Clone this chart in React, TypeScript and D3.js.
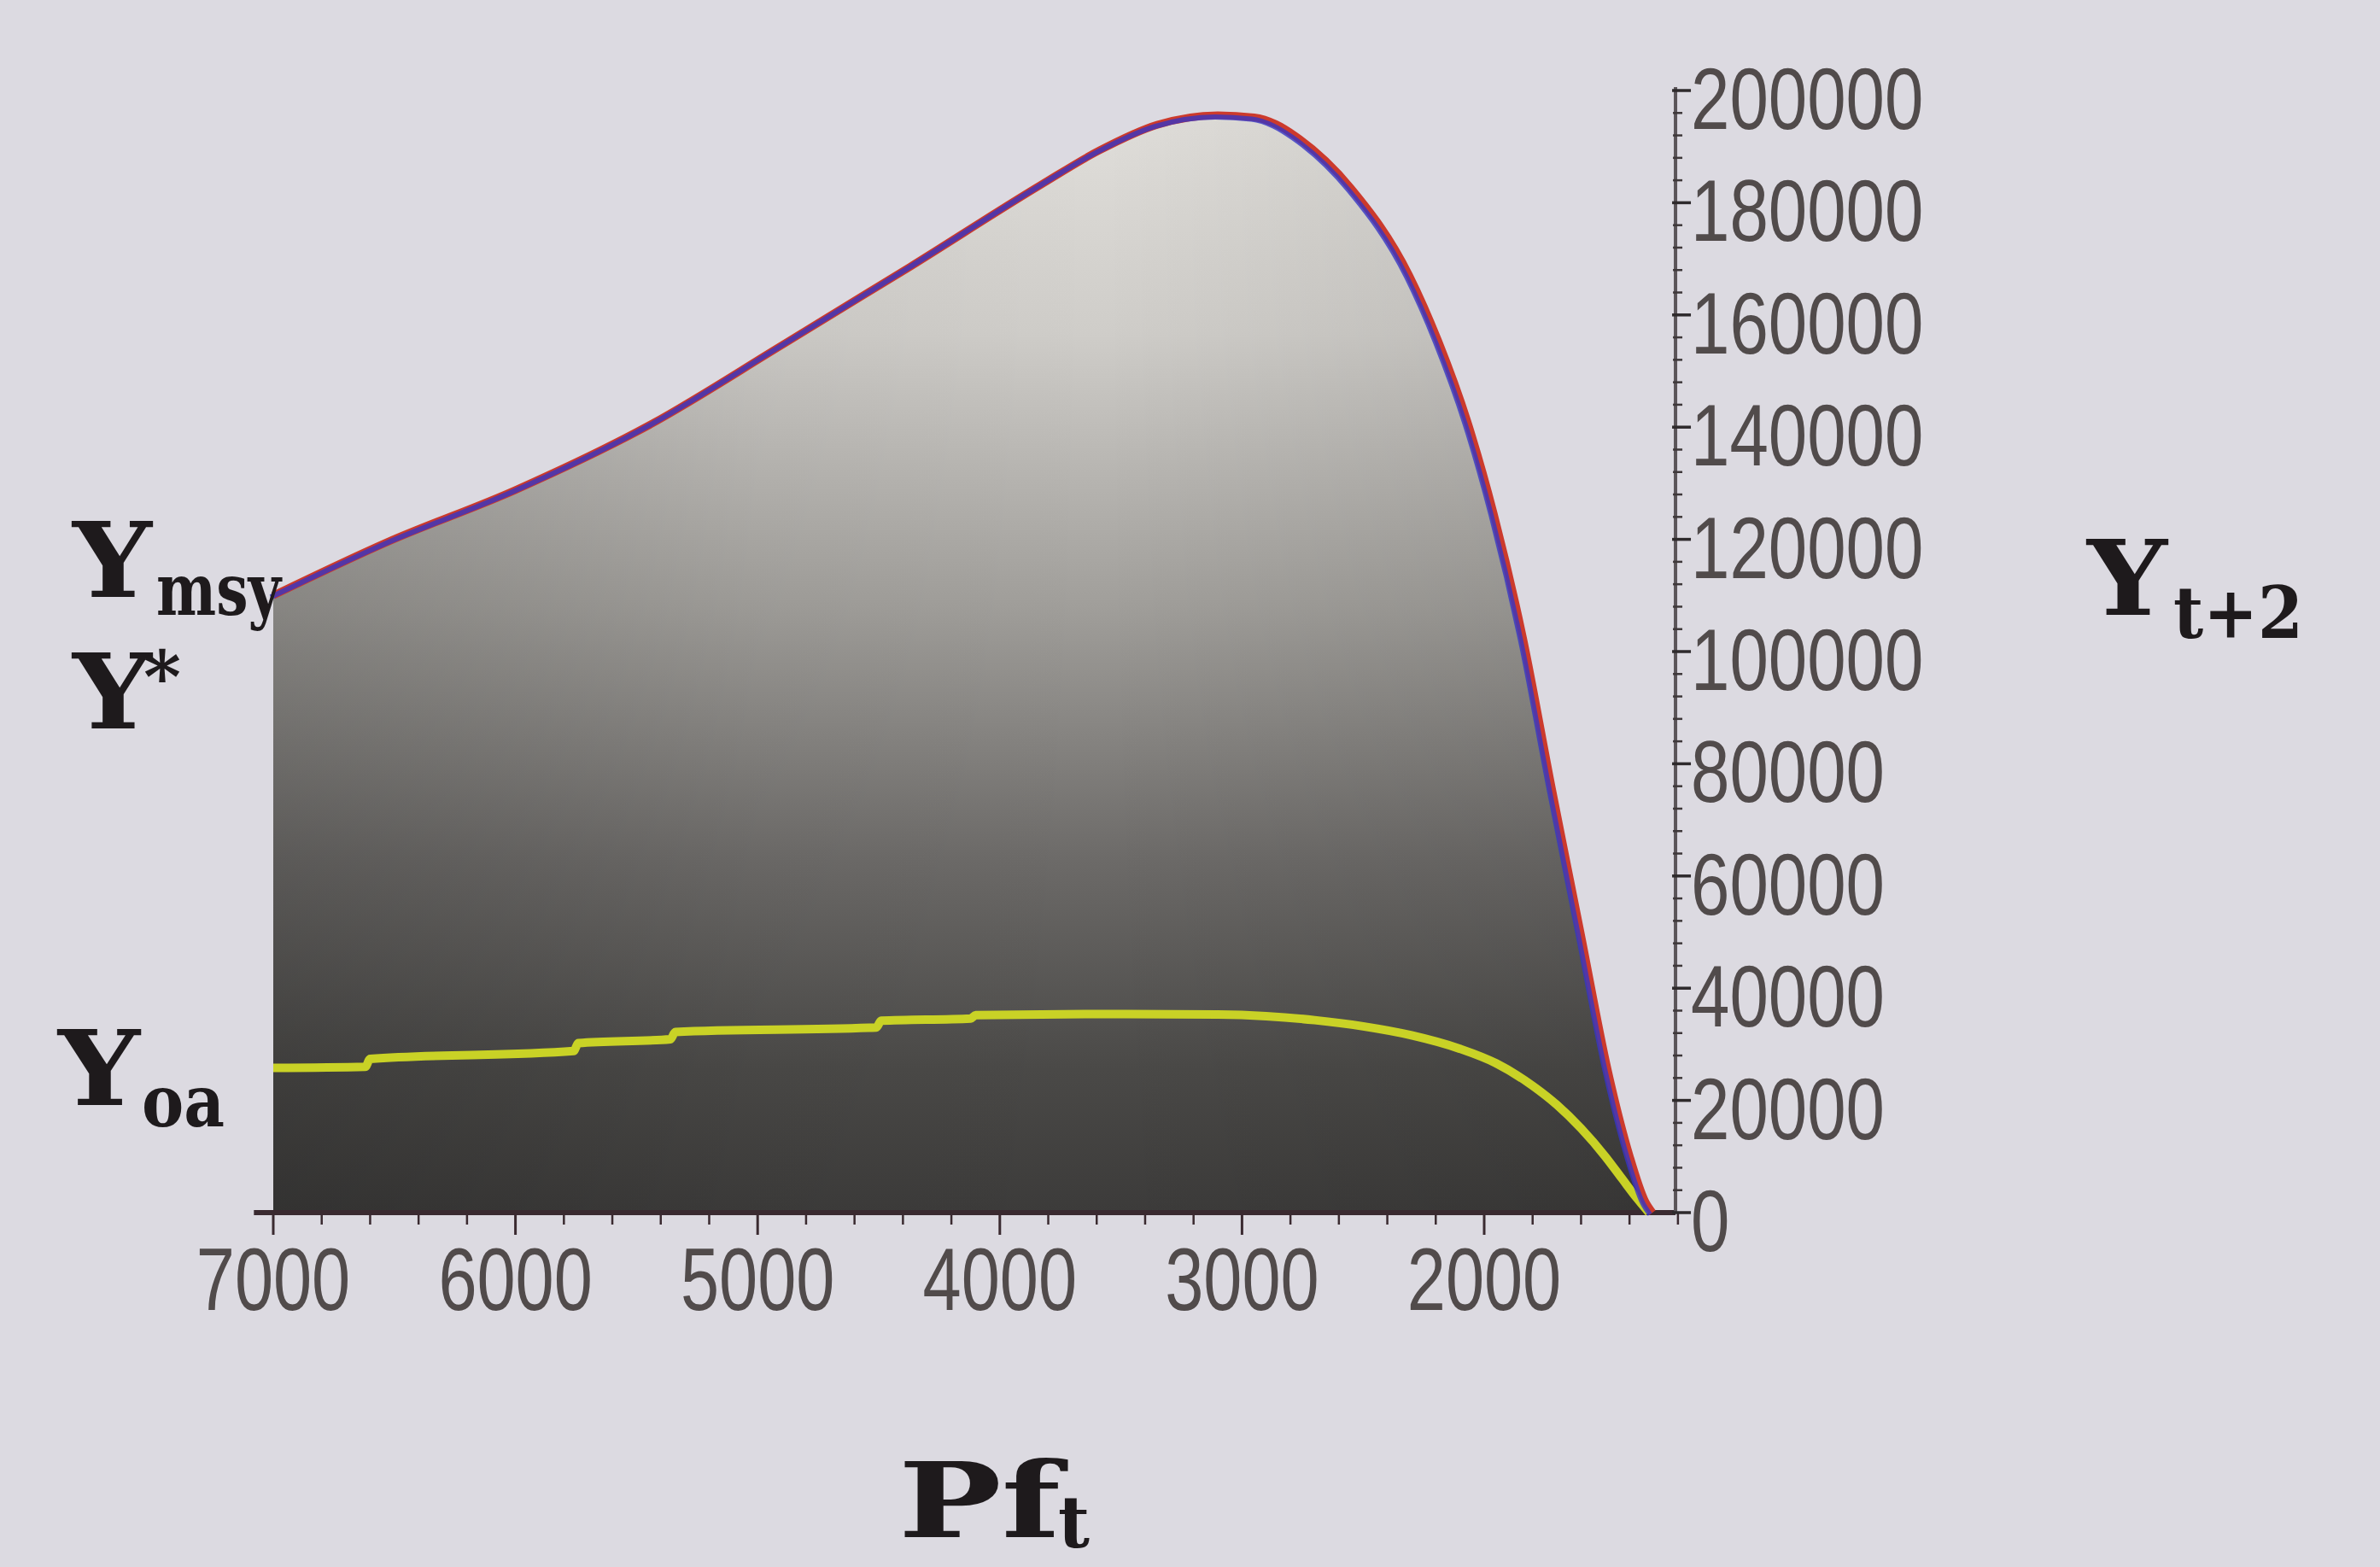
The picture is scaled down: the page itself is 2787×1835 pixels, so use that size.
import * as d3 from 'd3'

const W = 2787, H = 1835

// upper yield curve (red + blue overlaid), Pf_t vs Y_t+2
const pfUpper = [7000, 6530, 6000, 5450, 4900, 4370, 3830, 3590, 3350, 3100, 2950, 2860, 2780, 2550, 2310, 2190, 2070, 1960, 1840, 1720, 1600, 1490, 1400, 1335, 1305]
const yUpper = [110000, 119500, 128800, 140300, 154600, 168600, 183200, 189300, 193900, 195600, 195200, 194000, 191900, 182600, 167100, 155400, 141100, 124500, 102500, 75500, 49500, 25500, 10200, 2000, 0]

// lower curve (Y_oa), yellow
const pfOa = [7000, 6620, 6600, 5760, 5740, 5360, 5340, 4510, 4490, 4120, 4100, 3600, 3100, 2900, 2700, 2500, 2300, 2100, 1950, 1800, 1700, 1600, 1500, 1430, 1370, 1320]
const yOa = [25800, 26000, 27400, 28800, 30200, 30900, 32200, 33000, 34200, 34600, 35200, 35400, 35300, 35000, 34300, 33200, 31600, 29200, 26600, 22600, 19200, 15000, 10000, 6000, 2600, 0]

const xTicks = [7000, 6000, 5000, 4000, 3000, 2000]
const yTicks = [0, 20000, 40000, 60000, 80000, 100000, 120000, 140000, 160000, 180000, 200000]
const xAxisExtent = [7080, 1210]

const x = d3.scaleLinear().domain([7000, 2000]).range([320, 1738])
const y = d3.scaleLinear().domain([0, 200000]).range([1420, 106])

const upper = pfUpper.map((p, i) => [p, yUpper[i]] as [number, number])
const oa = pfOa.map((p, i) => [p, yOa[i]] as [number, number])

const line = d3.line<[number, number]>().x(d => x(d[0])).y(d => y(d[1])).curve(d3.curveMonotoneX)
const area = d3.area<[number, number]>().x(d => x(d[0])).y0(y(0)).y1(d => y(d[1])).curve(d3.curveMonotoneX)

const minorX = d3.range(7000, 1199, -200).filter(v => v % 1000 !== 0)
const minorY = d3.range(0, 200001, 4000).filter(v => v % 20000 !== 0)

const axisCol = '#3a2a30'
const tickFont = '"Liberation Sans", Arial, sans-serif'
const mathFont = '"DejaVu Serif", "Liberation Serif", serif'

// label, subscript / superscript pieces with their measured widths
function MathLabel({ x0, base, main, mainW, sub, subX, subY, subW, size = 122, subSize = 84 }: {
  x0: number, base: number, main: string, mainW: number,
  sub: string, subX: number, subY: number, subW: number, size?: number, subSize?: number
}) {
  return (
    <g fontFamily={mathFont} fontWeight="bold" fill="#1e1a1c">
      <text x={x0} y={base} fontSize={size} textLength={mainW} lengthAdjust="spacingAndGlyphs">{main}</text>
      <text x={subX} y={subY} fontSize={subSize} textLength={subW} lengthAdjust="spacingAndGlyphs">{sub}</text>
    </g>
  )
}

export default function App() {
  const ax = x(xAxisExtent[1])
  return (
    <>
      <style>{'body{margin:0}'}</style>
      <svg width={W} height={H} style={{ display: 'block' }}>
        <defs>
          <linearGradient id="fillGrad" gradientUnits="userSpaceOnUse" x1="0" y1={y(196000)} x2="0" y2={y(0)}>
            <stop offset="0" stopColor="#e0deda" />
            <stop offset="0.2" stopColor="#cfcdc9" />
            <stop offset="0.45" stopColor="#a09e9a" />
            <stop offset="0.68" stopColor="#6c6a68" />
            <stop offset="0.87" stopColor="#4a4947" />
            <stop offset="1" stopColor="#3c3b3a" />
          </linearGradient>
          <linearGradient id="shade" gradientUnits="userSpaceOnUse" x1={x(7000)} y1="0" x2={x(1300)} y2="0">
            <stop offset="0" stopColor="#000" stopOpacity="0.16" />
            <stop offset="0.35" stopColor="#000" stopOpacity="0.03" />
            <stop offset="0.6" stopColor="#000" stopOpacity="0" />
            <stop offset="1" stopColor="#000" stopOpacity="0.1" />
          </linearGradient>
        </defs>
        <rect width={W} height={H} fill="#dcdae1" />

        <path d={area(upper) ?? ''} fill="url(#fillGrad)" />
        <path d={area(upper) ?? ''} fill="url(#shade)" />

        {/* axes */}
        <line x1={x(xAxisExtent[0])} x2={ax} y1={y(0)} y2={y(0)} stroke={axisCol} strokeWidth={6} />
        <line x1={ax} x2={ax} y1={y(0)} y2={y(200000) - 4} stroke="#5a5458" strokeWidth={4} />
        {xTicks.map(t => (
          <line key={'xt' + t} x1={x(t)} x2={x(t)} y1={y(0)} y2={y(0) + 26} stroke={axisCol} strokeWidth={3} />
        ))}
        {minorX.map(t => (
          <line key={'xm' + t} x1={x(t)} x2={x(t)} y1={y(0)} y2={y(0) + 14} stroke={axisCol} strokeWidth={2.5} />
        ))}
        {yTicks.map(t => (
          <line key={'yt' + t} x1={ax - 4} x2={ax + 18} y1={y(t)} y2={y(t)} stroke="#2e2a2c" strokeWidth={3.5} />
        ))}
        {minorY.map(t => (
          <line key={'ym' + t} x1={ax - 3} x2={ax + 8} y1={y(t)} y2={y(t)} stroke="#3e383a" strokeWidth={2.5} />
        ))}
        {xTicks.map(t => (
          <text key={'xl' + t} transform={`translate(${x(t)},${y(0) + 114}) scale(0.78,1)`} textAnchor="middle"
            fontFamily={tickFont} fontSize={104} fill="#514b4b">{t}</text>
        ))}
        {yTicks.map(t => (
          <text key={'yl' + t} transform={`translate(${ax + 18},${y(t) + 45}) scale(0.8,1)`} textAnchor="start"
            fontFamily={tickFont} fontSize={102} fill="#514b4b">{t}</text>
        ))}

        {/* curves */}
        <path d={line(oa) ?? ''} fill="none" stroke="#c9d226" strokeWidth={10} strokeLinejoin="round" />
        <path d={line(upper) ?? ''} fill="none" stroke="#cc3a2c" strokeWidth={9} strokeLinejoin="round" />
        <path d={line(upper) ?? ''} fill="none" stroke="#3636c4" strokeWidth={6} opacity={0.8}
          transform="translate(-3,2)" strokeLinejoin="round" />

        {/* math labels */}
        <MathLabel x0={85} base={699} main="Y" mainW={93} sub="msy" subX={183} subY={720} subW={146} />
        <MathLabel x0={85} base={853} main="Y" mainW={93} sub="*" subX={168} subY={822} subW={44} />
        <MathLabel x0={68} base={1294} main="Y" mainW={96} sub="oa" subX={166} subY={1319} subW={97} />
        <MathLabel x0={2444} base={720} main="Y" mainW={94} sub="t+2" subX={2545} subY={747} subW={152} />
        <MathLabel x0={1052} base={1800} main="Pf" mainW={190} sub="t" subX={1239} subY={1812} subW={37} />
      </svg>
    </>
  )
}
